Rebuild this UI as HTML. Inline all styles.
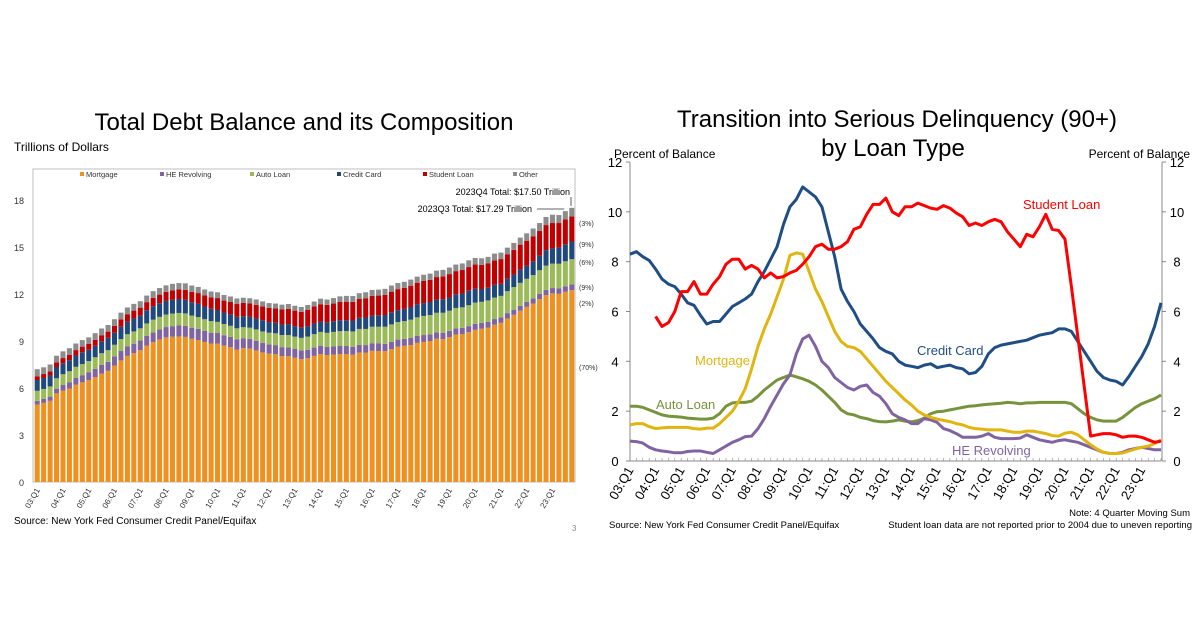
<!DOCTYPE html>
<html><head><meta charset="utf-8">
<style>
html,body{margin:0;padding:0;background:#fff;}
svg{display:block;font-family:"Liberation Sans",Arial,sans-serif;}
</style></head>
<body>
<svg id="root" width="1200" height="630" viewBox="0 0 1200 630" xmlns="http://www.w3.org/2000/svg">
<text x="304" y="130" font-size="24" text-anchor="middle" fill="#000">Total Debt Balance and its Composition</text>
<text x="14" y="151" font-size="12" fill="#000">Trillions of Dollars</text>
<text x="897" y="127" font-size="24" text-anchor="middle" fill="#000">Transition into Serious Delinquency (90+)</text>
<text x="893" y="156" font-size="24" text-anchor="middle" fill="#000">by Loan Type</text>
<text x="614" y="158" font-size="12" fill="#000">Percent of Balance</text>
<text x="1190" y="158" font-size="12" text-anchor="end" fill="#000">Percent of Balance</text>
<rect x="33" y="169" width="542" height="313" fill="none" stroke="#bfbfbf" stroke-width="1"/>
<g id="left"></g>
<g id="right"></g>
<text x="14" y="524" font-size="10" fill="#000">Source: New York Fed Consumer Credit Panel/Equifax</text>
<text x="572" y="531" font-size="8" fill="#888">3</text>
<text x="1190" y="516" font-size="9.5" text-anchor="end" fill="#000">Note: 4 Quarter Moving Sum</text>
<text x="609" y="528" font-size="9.5" fill="#000">Source: New York Fed Consumer Credit Panel/Equifax</text>
<text x="1192" y="528" font-size="9.5" text-anchor="end" fill="#000">Student loan data are not reported prior to 2004 due to uneven reporting</text>
</svg>
<script>
// ---------- LEFT CHART DATA ----------
const years = ["03","04","05","06","07","08","09","10","11","12","13","14","15","16","17","18","19","20","21","22","23"];
const leftTicks = [0,3,6,9,12,15,18];
const mortgage = [4.94,5.05,5.18,5.66,5.84,5.97,6.21,6.36,6.51,6.70,6.92,7.10,7.43,7.76,8.05,8.23,8.42,8.71,8.93,9.10,9.23,9.27,9.29,9.26,9.14,9.06,8.94,8.84,8.83,8.70,8.60,8.45,8.54,8.51,8.40,8.27,8.19,8.15,8.03,8.03,7.93,7.84,7.90,8.05,8.17,8.10,8.13,8.17,8.17,8.12,8.26,8.25,8.37,8.36,8.35,8.48,8.63,8.69,8.74,8.88,8.94,9.00,9.14,9.12,9.24,9.41,9.44,9.56,9.71,9.78,9.86,10.04,10.16,10.44,10.67,10.93,11.18,11.39,11.67,11.92,12.04,12.01,12.14,12.25];
const heRevolving = [.24,.25,.27,.30,.35,.40,.43,.46,.50,.53,.55,.57,.59,.60,.60,.60,.61,.61,.62,.64,.66,.68,.70,.71,.71,.71,.70,.69,.68,.67,.66,.65,.64,.63,.62,.61,.60,.59,.58,.57,.56,.55,.54,.53,.53,.52,.52,.51,.51,.50,.50,.49,.49,.48,.47,.47,.46,.45,.45,.44,.44,.43,.42,.41,.41,.40,.40,.39,.39,.38,.37,.36,.35,.34,.33,.32,.32,.32,.33,.34,.34,.34,.35,.36];
const autoLoan = [.64,.64,.65,.66,.69,.70,.71,.71,.71,.73,.75,.74,.74,.76,.78,.78,.78,.80,.81,.80,.80,.80,.80,.79,.77,.76,.75,.74,.71,.71,.71,.71,.70,.71,.72,.73,.74,.75,.77,.78,.79,.81,.84,.86,.88,.90,.93,.95,.96,.99,1.01,1.03,1.05,1.07,1.09,1.11,1.12,1.13,1.17,1.19,1.22,1.23,1.24,1.27,1.28,1.30,1.31,1.33,1.35,1.34,1.36,1.37,1.37,1.40,1.44,1.46,1.47,1.50,1.52,1.55,1.56,1.58,1.60,1.61];
const creditCard = [.69,.70,.70,.72,.70,.71,.72,.75,.72,.74,.76,.79,.77,.79,.80,.83,.81,.84,.86,.87,.87,.88,.89,.87,.86,.84,.81,.79,.76,.74,.73,.73,.71,.71,.70,.72,.68,.68,.67,.70,.67,.67,.67,.68,.66,.67,.68,.70,.68,.70,.71,.73,.71,.73,.75,.78,.76,.78,.81,.83,.82,.83,.84,.87,.85,.87,.88,.93,.89,.82,.81,.82,.77,.79,.80,.86,.84,.89,.93,.99,.99,1.03,1.08,1.13];
const studentLoan = [.24,.25,.26,.30,.33,.34,.35,.36,.37,.38,.39,.40,.44,.47,.48,.50,.51,.52,.54,.55,.58,.60,.61,.64,.66,.69,.71,.72,.76,.76,.79,.82,.84,.84,.87,.87,.90,.91,.96,.97,.99,.99,1.03,1.08,1.11,1.12,1.13,1.16,1.19,1.19,1.20,1.23,1.26,1.26,1.28,1.31,1.34,1.34,1.36,1.38,1.41,1.41,1.44,1.46,1.49,1.48,1.50,1.51,1.54,1.54,1.55,1.56,1.58,1.57,1.58,1.58,1.59,1.59,1.57,1.60,1.60,1.57,1.60,1.60];
const otherDebt = [.45,.43,.44,.42,.43,.42,.42,.42,.42,.42,.43,.42,.42,.43,.43,.43,.41,.42,.42,.42,.41,.42,.41,.41,.40,.39,.38,.38,.37,.36,.35,.35,.33,.33,.34,.33,.31,.31,.31,.31,.31,.31,.32,.32,.35,.34,.35,.36,.37,.37,.37,.38,.38,.38,.39,.39,.39,.39,.39,.39,.40,.40,.41,.41,.42,.42,.42,.43,.42,.42,.42,.43,.41,.42,.44,.45,.47,.49,.51,.52,.53,.51,.52,.55];
const seriesNames = ["Mortgage","HE Revolving","Auto Loan","Credit Card","Student Loan","Other"];
const shareLabels = ["(70%)","(2%)","(9%)","(6%)","(9%)","(3%)"];

// ---------- RIGHT CHART DATA ----------
const rightTicks = [0,2,4,6,8,10,12];
const ccDelinq = [8.3,8.4,8.2,8.05,7.7,7.3,7.1,7.0,6.7,6.35,6.25,5.85,5.5,5.6,5.6,5.9,6.2,6.35,6.5,6.7,7.2,7.6,8.1,8.6,9.5,10.2,10.5,11.0,10.8,10.6,10.2,9.2,8.2,6.9,6.4,6.0,5.5,5.2,4.9,4.55,4.4,4.3,4.0,3.85,3.8,3.75,3.85,3.9,3.75,3.8,3.85,3.75,3.7,3.5,3.55,3.8,4.3,4.55,4.65,4.7,4.75,4.8,4.85,4.95,5.05,5.1,5.15,5.3,5.3,5.2,4.8,4.4,4.0,3.6,3.35,3.25,3.2,3.05,3.4,3.8,4.2,4.7,5.4,6.35];
const studentDelinq = [null,null,null,null,5.8,5.4,5.55,6.0,6.8,6.8,7.2,6.7,6.7,7.1,7.4,7.9,8.1,8.1,7.7,7.85,7.7,7.35,7.55,7.35,7.4,7.55,7.65,7.9,8.2,8.6,8.7,8.5,8.5,8.6,8.8,9.3,9.4,9.9,10.3,10.3,10.55,10.0,9.85,10.2,10.2,10.35,10.25,10.15,10.1,10.25,10.15,9.95,9.8,9.45,9.55,9.45,9.6,9.7,9.6,9.2,8.9,8.6,9.1,9.0,9.4,9.9,9.3,9.25,8.9,7.0,5.0,3.0,1.0,1.05,1.1,1.1,1.05,0.95,1.0,1.0,0.95,0.85,0.75,0.8];
const mortDelinq = [1.45,1.5,1.5,1.38,1.3,1.33,1.35,1.35,1.35,1.35,1.3,1.28,1.32,1.32,1.5,1.75,2.0,2.4,2.9,3.7,4.6,5.3,5.9,6.6,7.3,8.25,8.35,8.3,7.6,6.9,6.4,5.8,5.2,4.8,4.6,4.55,4.4,4.1,3.8,3.5,3.2,2.95,2.7,2.45,2.25,2.0,1.85,1.75,1.68,1.63,1.58,1.5,1.45,1.35,1.3,1.28,1.25,1.25,1.25,1.2,1.15,1.15,1.2,1.2,1.15,1.1,1.02,1.0,1.12,1.15,1.05,0.85,0.65,0.48,0.35,0.3,0.3,0.32,0.4,0.48,0.55,0.6,0.7,0.85];
const autoDelinq = [2.2,2.2,2.15,2.05,1.95,1.85,1.8,1.78,1.76,1.72,1.7,1.68,1.68,1.72,1.9,2.2,2.33,2.35,2.35,2.4,2.6,2.85,3.05,3.25,3.35,3.45,3.38,3.3,3.2,3.05,2.85,2.6,2.35,2.05,1.9,1.85,1.75,1.7,1.62,1.58,1.57,1.6,1.65,1.6,1.57,1.62,1.72,1.9,1.98,2.0,2.05,2.1,2.15,2.2,2.22,2.25,2.28,2.3,2.32,2.35,2.33,2.3,2.33,2.33,2.35,2.35,2.35,2.35,2.35,2.3,2.1,1.9,1.75,1.65,1.6,1.6,1.6,1.75,1.95,2.15,2.3,2.4,2.5,2.65];
const heDelinq = [0.8,0.78,0.72,0.55,0.45,0.4,0.37,0.33,0.33,0.38,0.4,0.4,0.35,0.3,0.45,0.6,0.75,0.85,0.98,1.0,1.3,1.7,2.2,2.65,3.1,3.45,4.3,4.9,5.05,4.6,4.0,3.75,3.35,3.15,2.95,2.85,3.0,3.05,2.75,2.6,2.3,1.9,1.75,1.65,1.5,1.5,1.7,1.65,1.55,1.3,1.22,1.1,0.95,0.95,0.95,1.0,1.1,0.95,0.9,0.9,0.9,0.92,1.05,0.95,0.85,0.8,0.75,0.82,0.85,0.8,0.75,0.65,0.55,0.45,0.35,0.3,0.3,0.35,0.45,0.5,0.55,0.5,0.45,0.45];

const NS = "http://www.w3.org/2000/svg";
function mk(tag, attrs, parent){ const e=document.createElementNS(NS,tag); for(const k in attrs) e.setAttribute(k,attrs[k]); parent.appendChild(e); return e; }

// ---------- LEFT ----------
(function(){
  const g=document.getElementById('left');
  const x0=34, x1=575, y0=482, yTop=200, vTop=18;
  const n=mortgage.length, step=(x1-x0)/n, bw=step*0.78;
  const y=v=>y0-(v/vTop)*(y0-yTop);
  const xb=i=>x0+i*step+(step-bw)/2;
  const colors=["#F0901E","#8064A2","#9BBB59","#1F497D","#C00000","#8C8C8C"];
  const stacks=[mortgage,heRevolving,autoLoan,creditCard,studentLoan,otherDebt];
  const keys=["mortgage","he-revolving","auto-loan","credit-card","student-loan","other"];
  leftTicks.forEach(t=>{
    const tl=mk('text',{x:24,y:y(t)+4,'font-size':9,'text-anchor':'end',fill:'#333'},g);
    tl.textContent=t;
    
    
  });
  for(let i=0;i<n;i++){
    let base=0;
    for(let s=0;s<stacks.length;s++){
      const v=stacks[s][i];
      const r=mk('rect',{x:xb(i),y:y(base+v),width:bw,height:y(base)-y(base+v),fill:colors[s]},g);
      
      
      base+=v;
    }
  }
  years.forEach((yr,k)=>{
    const cx=xb(k*4)+bw/2;
    const t=mk('text',{x:cx+3,y:490,'font-size':8,'text-anchor':'end',fill:'#333',transform:`rotate(-60 ${cx+3} 490)`},g);
    t.textContent=yr+":Q1";
    
    
  });
  const lx=[80,160,250,337,423,513];
  seriesNames.forEach((nm,s)=>{
    const r=mk('rect',{x:lx[s],y:172,width:4,height:4,fill:colors[s]},g);
    
    
    const t=mk('text',{x:lx[s]+6,y:177,'font-size':7.5,fill:'#333'},g);
    t.textContent=nm;
    
    
  });
  const shareY=[370,306,290,265,247,226];
  shareLabels.forEach((lab,s)=>{
    const t=mk('text',{x:579,y:shareY[s],'font-size':7,fill:'#333'},g);
    t.textContent=lab;
    
    
  });
  const a1=mk('text',{x:570,y:195,'font-size':9,'text-anchor':'end',fill:'#000'},g);
  a1.textContent="2023Q4 Total: $17.50 Trillion";
  
  
  const a2=mk('text',{x:532,y:212,'font-size':9,'text-anchor':'end',fill:'#000'},g);
  a2.textContent="2023Q3 Total: $17.29 Trillion";
  
  
  const l1=mk('polyline',{points:`537,209 564,209 564,${y(17.29)-2}`,fill:'none',stroke:'#333','stroke-width':0.8},g);
  
  
  const l2=mk('line',{x1:571,y1:197,x2:571,y2:y(17.5)-2,stroke:'#333','stroke-width':0.8},g);
  
  
})();

// ---------- RIGHT ----------
(function(){
  const g=document.getElementById('right');
  const x0=630, x1=1161, y0=461, y12=162;
  const n=ccDelinq.length, step=(x1-x0)/(n-1);
  const X=i=>x0+i*step, Y=v=>y0-(v/12)*(y0-y12);
  const ax=mk('line',{x1:x0,y1:y0,x2:x1,y2:y0,stroke:'#888','stroke-width':1},g);
  
  
  const lf=mk('line',{x1:x0,y1:y12,x2:x0,y2:y0,stroke:'#888','stroke-width':1},g);
  
  
  const rt=mk('line',{x1:x1+1,y1:y12,x2:x1+1,y2:y0,stroke:'#888','stroke-width':1},g);
  
  
  for(let i=0;i<n;i++){
    const tk=mk('line',{x1:X(i),y1:y0,x2:X(i),y2:y0-3,stroke:'#888','stroke-width':0.6},g);
    
    
  }
  rightTicks.forEach(t=>{
    const a=mk('text',{x:615,y:Y(t)+5,'font-size':13,'text-anchor':'middle',fill:'#000'},g);
    a.textContent=t;
    
    
    const b=mk('text',{x:1177,y:Y(t)+5,'font-size':13,'text-anchor':'middle',fill:'#000'},g);
    b.textContent=t;
    
    
    const tl=mk('line',{x1:x0-4,y1:Y(t),x2:x0,y2:Y(t),stroke:'#888'},g);
    
    
    const tr=mk('line',{x1:x1+1,y1:Y(t),x2:x1+5,y2:Y(t),stroke:'#888'},g);
    
    
  });
  years.forEach((yr,k)=>{
    const cx=X(k*4)+4;
    const t=mk('text',{x:cx,y:470,'font-size':13,'text-anchor':'end',fill:'#000',transform:`rotate(-60 ${cx} 470)`},g);
    t.textContent=yr+":Q1";
    
    
  });
  const series=[
    {d:autoDelinq,c:"#77933C",k:"auto-loan"},
    {d:heDelinq,c:"#8064A2",k:"he-revolving"},
    {d:mortDelinq,c:"#E0B510",k:"mortgage"},
    {d:ccDelinq,c:"#1F4E85",k:"credit-card"},
    {d:studentDelinq,c:"#FF0000",k:"student-loan"}];
  series.forEach(s=>{
    let pts=[];
    s.d.forEach((v,i)=>{ if(v!==null) pts.push(X(i).toFixed(1)+","+Y(v).toFixed(1)); });
    const p=mk('polyline',{points:pts.join(" "),fill:'none',stroke:s.c,'stroke-width':3,'stroke-linejoin':'round'},g);
    
    
  });
  const labs=[["Student Loan",1023,209,"#FF0000","student-loan"],["Credit Card",917,355,"#1F4E85","credit-card"],["Mortgage",695,365,"#E0B510","mortgage"],["Auto Loan",656,409,"#77933C","auto-loan"],["HE Revolving",952,455,"#8064A2","he-revolving"]];
  labs.forEach(l=>{
    const t=mk('text',{x:l[1],y:l[2],'font-size':13,fill:l[3]},g);
    t.textContent=l[0];
    
    
  });
})();
</script>
</body></html>
